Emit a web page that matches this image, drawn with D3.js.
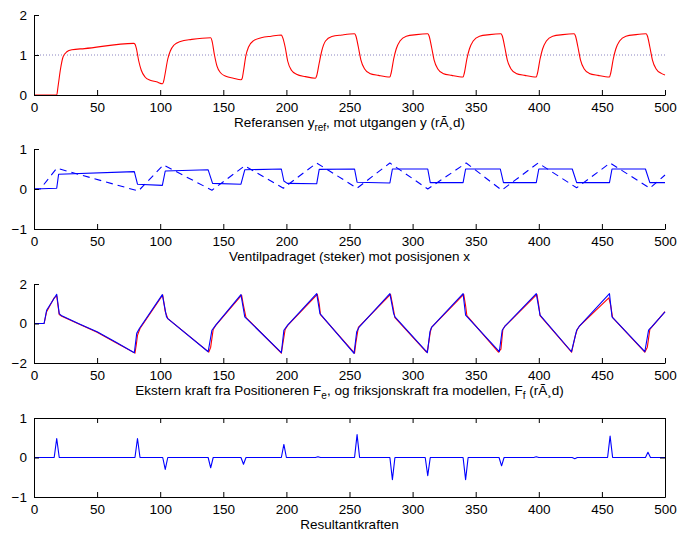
<!DOCTYPE html>
<html><head><meta charset="utf-8">
<script src="https://cdn.jsdelivr.net/npm/d3@7"></script>
<style>body{margin:0;background:#fff}svg{display:block;font-family:"Liberation Sans",Arial,Helvetica,sans-serif}</style>
</head><body>
<script>
// ---------- data ----------
const xTicks = [0,50,100,150,200,250,300,350,400,450,500];

// Panel 1: output y (red) and reference y_ref (dotted)
const yOutX = [0,18,19,21,23,26,30,40,79,80,81,83,85,88,92,97,102,103,104,106,108,111,116,125,140,141,143,145,148,152,158,164,165,166,168,170,174,180,188,196,197,199,201,204,208,215,223,224,226,228,231,236,244,254,255,257,259,262,266,273,282,283,285,287,290,295,303,312,313,315,317,320,324,331,340,341,343,345,348,353,361,370,371,373,375,378,382,389,398,399,401,403,406,411,419,428,429,431,433,436,440,447,456,457,459,461,464,469,477,485,486,488,490,493,497,500];
const yOutY = [0,0,0.2,0.65,0.95,1.08,1.13,1.16,1.29,1.27,1.18,0.85,0.62,0.45,0.37,0.33,0.28,0.38,0.55,0.9,1.1,1.25,1.34,1.39,1.43,1.36,1.0,0.72,0.55,0.47,0.42,0.38,0.42,0.6,1.0,1.2,1.36,1.43,1.47,1.5,1.44,1.2,0.85,0.62,0.52,0.46,0.42,0.48,0.8,1.1,1.35,1.46,1.5,1.53,1.48,1.2,0.88,0.65,0.54,0.49,0.45,0.55,0.9,1.15,1.35,1.47,1.51,1.53,1.48,1.2,0.88,0.65,0.54,0.49,0.45,0.55,0.9,1.15,1.35,1.47,1.51,1.53,1.48,1.2,0.88,0.65,0.54,0.49,0.45,0.55,0.9,1.15,1.35,1.47,1.51,1.53,1.48,1.2,0.88,0.65,0.54,0.49,0.45,0.55,0.9,1.15,1.35,1.47,1.51,1.53,1.48,1.2,0.88,0.65,0.54,0.5];
const yRefX = [0,500];
const yRefY = [1,1];

// Panel 2: valve input (solid) and position x (dashed)
const uX = [0,18,19.5,79.5,82,101.7,104,138,141.5,164,167,196,198,200.7,224,226,254,256,282,284,312,314,340,342,369.5,372,398,400,426.5,430,456,458,484.5,488,500];
const uY = [0,0.02,0.37,0.435,0.12,0.09,0.45,0.48,0.14,0.12,0.48,0.5,0.2,0.14,0.13,0.49,0.5,0.17,0.15,0.5,0.5,0.16,0.16,0.5,0.5,0.16,0.16,0.5,0.5,0.16,0.16,0.5,0.5,0.16,0.16];
const posX = [0,5,18,82.7,102.5,141,167,197.6,224,256,282,312,342.5,370.6,399.5,430,456.5,488,500];
const posY = [0,0,0.52,-0.05,0.6,-0.03,0.58,0.02,0.65,0.02,0.65,0,0.65,-0.03,0.65,0.03,0.65,0.02,0.35];

// Panel 3: external force Fe (red) and friction model Ff (blue)
const feX = [0,8,10,16,18,20,22,36,50,65,80,81,82,84,102,104,106,138.5,140,142,144,164.5,166,168,196,197,199,201,224.5,226,227,254,255,257,282.5,284,286,311,312,314,315,340.5,342,343,368,370,371.5,373,398.5,400,401,426,429,430.5,432,455.5,457,458.5,484,486,488,490,500];
const feY = [0,0,0.6,1.3,1.4,0.45,0.37,-0.04,-0.44,-0.97,-1.5,-1.1,-0.6,-0.25,1.44,0.6,0.25,-1.45,-1.2,-0.3,-0.1,1.44,0.9,0.3,-1.5,-1.1,-0.3,-0.1,1.48,1.0,0.45,-1.5,-1.0,-0.2,1.48,1.0,0.3,-1.45,-1.3,-0.45,-0.2,1.48,0.9,0.4,-1.45,-1.3,-0.3,-0.15,1.48,0.9,0.4,-1.45,-0.6,-0.3,-0.15,1.3,0.9,0.3,-1.45,-1.2,-0.3,-0.15,0.6];
const ffX = [0,8,10,18,20,22,36,50,65,79.5,81.4,83.5,101.7,105,106,138,141,144,164,167,196,198,201,224,226.6,253.6,255.7,257.8,282,285,286,311.7,313.8,315,340,342,368.7,371,373,398,401,425.9,430,432,456,458,484,487,489.8,500];
const ffY = [0,0,0.67,1.48,0.5,0.39,-0.02,-0.42,-0.95,-1.48,-0.5,-0.25,1.46,0.34,0.25,-1.43,-0.34,-0.08,1.46,0.34,-1.48,-0.34,-0.08,1.51,0.5,-1.51,-0.42,-0.17,1.51,0.5,0.34,-1.48,-0.4,-0.2,1.51,0.42,-1.43,-0.34,-0.15,1.51,0.42,-1.43,-0.34,-0.15,1.51,0.34,-1.43,-0.34,-0.15,0.59];

// Panel 4: resultant force
const resX = [0,16,18,20,80,82,84,102,104,106,138,140,142,164,166,168,196,198,200,223,225,227,254,256,258,282,284,286,310,312,314,340,342,344,368.5,370.5,372.5,396,398,400,426.5,428.5,430.5,454.5,456.5,458.5,484.5,486.5,488.5,500];
const resY = [0,0,0.48,0,0,0.48,0,0,-0.3,0,0,-0.26,0,0,-0.17,0,0,0.33,0,0,0.02,0,0,0.58,0,0,-0.56,0,0,-0.46,0,0,-0.56,0,0,-0.21,0,0,0.02,0,0,-0.03,0,0,0.54,0,0,0.13,0,0];

// ---------- drawing ----------
const W = 680, H = 535;
const svg = d3.select("body").append("svg").attr("width", W).attr("height", H);
svg.append("rect").attr("width", W).attr("height", H).attr("fill", "#fff");

const x = d3.scaleLinear().domain([0,500]).range([34,665]);
const zip = (a,b) => a.map((v,i)=>[v,b[i]]);

const panels = [
  {top:15, bottom:95, dom:[0,2], ticks:[0,1,2], box:false,
   label:[["Referansen y",0],["ref",1],[", mot utgangen y (rÃ¸d)",0]],
   series:[
     {d:zip(yRefX,yRefY), color:"#8a84c0", dash:"1,2", w:1},
     {d:zip(yOutX,yOutY), color:"#ff0000", w:1.1, curve:true}
   ]},
  {top:149, bottom:229, dom:[-1,1], ticks:[-1,0,1], box:false,
   label:[["Ventilpadraget (steker) mot posisjonen x",0]],
   series:[
     {d:zip(posX,posY), color:"#0000ff", dash:"7,5", w:1.1},
     {d:zip(uX,uY), color:"#0000ff", w:1.1}
   ]},
  {top:284, bottom:363, dom:[-2,2], ticks:[-2,0,2], box:false,
   label:[["Ekstern kraft fra Positioneren F",0],["e",1],[", og friksjonskraft fra modellen, F",0],["f",1],[" (rÃ¸d)",0]],
   series:[
     {d:zip(feX,feY), color:"#ff0000", w:1.1},
     {d:zip(ffX,ffY), color:"#0000ff", w:1.1}
   ]},
  {top:418, bottom:497, dom:[-1,1], ticks:[-1,0,1], box:true,
   label:[["Resultantkraften",0]],
   series:[
     {d:zip(resX,resY), color:"#0000ff", w:1.1}
   ]}
];

const fmt = v => v < 0 ? "\u2212" + Math.abs(v) : String(v);
const TL = 5;
const FS = 13.5;

panels.forEach(p => {
  const y = d3.scaleLinear().domain(p.dom).range([p.bottom, p.top]);
  const g = svg.append("g");

  // series
  p.series.forEach(s => {
    const line = d3.line().x(d=>x(d[0])).y(d=>y(d[1]));
    if (s.curve) line.curve(d3.curveMonotoneX);
    g.append("path").attr("d", line(s.d)).attr("fill","none")
      .attr("stroke", s.color).attr("stroke-width", s.w)
      .attr("stroke-dasharray", s.dash || null)
      .attr("stroke-linejoin","round");
  });

  // bottom axis (ticks inward)
  const xa = d3.axisBottom(x).tickValues(xTicks).tickSize(-TL).tickSizeOuter(0).tickPadding(TL+3).tickFormat(d=>d);
  const gx = g.append("g").attr("transform", `translate(0,${p.bottom})`).call(xa);
  // left axis
  const ya = d3.axisLeft(y).tickValues(p.ticks).tickSize(-TL).tickSizeOuter(0).tickPadding(TL+2).tickFormat(fmt);
  const gy = g.append("g").attr("transform", `translate(${x(0)},0)`).call(ya);
  [gx, gy].forEach(a => {
    a.select(".domain").attr("stroke","#000").attr("stroke-width",1);
    a.selectAll(".tick line").attr("stroke","#000");
    a.selectAll(".tick text").attr("fill","#000").attr("font-size",FS).attr("font-family",null);
  });
  gx.selectAll(".tick text").attr("dy","0.70em");
  if (p.box) {
    const gt = g.append("g").attr("transform", `translate(0,${p.top})`)
      .call(d3.axisTop(x).tickValues(xTicks).tickSize(-TL).tickSizeOuter(0).tickFormat(""));
    const gr = g.append("g").attr("transform", `translate(${x(500)},0)`)
      .call(d3.axisRight(y).tickValues(p.ticks).tickSize(-TL).tickSizeOuter(0).tickFormat(""));
    [gt, gr].forEach(a => {
      a.select(".domain").attr("stroke","#000").attr("stroke-width",1);
      a.selectAll(".tick line").attr("stroke","#000");
    });
  }

  // label
  const t = g.append("text").attr("x", (x(0)+x(500))/2).attr("y", p.bottom + 32)
    .attr("text-anchor","middle").attr("font-size",FS).attr("fill","#000");
  p.label.forEach(([s, sub]) => {
    const ts = t.append("tspan").text(s);
    if (sub) ts.attr("font-size",10).attr("dy",4);
    else if (t.selectAll("tspan").size() > 1) ts.attr("dy", -4);
  });
});
</script>
</body></html>
